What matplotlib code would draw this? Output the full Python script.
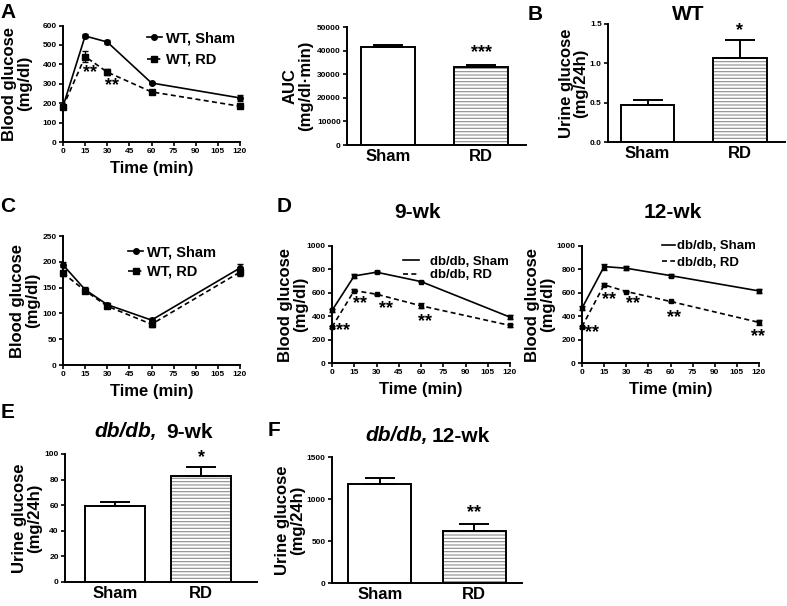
import matplotlib
matplotlib.use("Agg")
import matplotlib.pyplot as plt
import numpy as np
from matplotlib.lines import Line2D

plt.rcParams["font.family"] = ["Liberation Sans", "DejaVu Sans"]
plt.rcParams["font.weight"] = "bold"
plt.rcParams["axes.labelweight"] = "bold"
plt.rcParams["hatch.linewidth"] = 0.8

W, H = 787, 606

# Du lieu doc tu hinh
time = [0, 15, 30, 60, 120]
time_ticks = [0, 15, 30, 45, 60, 75, 90, 105, 120]

# A: GTT WT
a_sham = [183, 546, 515, 304, 227]
a_sham_err = [8, 12, 8, 6, 15]
a_rd = [181, 440, 360, 258, 184]
a_rd_err = [8, 30, 15, 6, 8]
a_stars_x = [18, 33]
a_stars_y = [358, 290]

# A: AUC
groups = ["Sham", "RD"]
auc = [41500, 33200]
auc_err = [1000, 800]

# B: urine glucose WT
b_urine = [0.47, 1.07]
b_urine_err = [0.06, 0.23]

# C: ITT WT
c_sham = [194, 146, 117, 87, 188]
c_sham_err = [5, 5, 4, 4, 8]
c_rd = [178, 144, 114, 79, 180]
c_rd_err = [5, 4, 4, 5, 8]

# D: GTT db/db 9-wk va 12-wk
d9_sham = [449, 744, 776, 696, 392]
d9_sham_err = [12, 15, 10, 6, 15]
d9_rd = [307, 619, 588, 489, 321]
d9_rd_err = [10, 10, 6, 20, 12]
d9_stars_x = [7.4, 18.7, 36.7, 62.6]
d9_stars_y = [280, 510, 465, 350]

d12_sham = [469, 824, 810, 747, 616]
d12_sham_err = [15, 25, 15, 12, 15]
d12_rd = [310, 668, 611, 526, 347]
d12_rd_err = [8, 12, 6, 6, 20]
d12_stars_x = [6.8, 18.3, 34.6, 62.5, 119]
d12_stars_y = [261, 545, 506, 392, 227]

# E, F: urine glucose db/db
e_urine = [59.5, 83]
e_urine_err = [3, 7]
f_urine = [1180, 615]
f_urine_err = [75, 85]


def box(l, t, r, b):
    return [l / W, 1 - b / H, (r - l) / W, (b - t) / H]


def ftext(x, y, s, **kw):
    fig.text(x / W, 1 - y / H, s, **kw)


def style(ax):
    ax.spines["top"].set_visible(False)
    ax.spines["right"].set_visible(False)
    ax.spines["left"].set_linewidth(1.4)
    ax.spines["bottom"].set_linewidth(1.4)
    ax.tick_params(direction="out", length=3, width=1.2, labelsize=6, pad=1.5)


def line_panel(ax, sham, sham_err, rd, rd_err, ymax, ystep, sham_m, rd_m, ms):
    style(ax)
    ax.errorbar(time, sham, yerr=sham_err, color="k", lw=1.2, marker=sham_m, ms=ms,
                capsize=2, elinewidth=1, capthick=1, clip_on=False, zorder=3)
    ax.errorbar(time, rd, yerr=rd_err, color="k", lw=1.2, ls=(0, (3, 2)), marker=rd_m, ms=ms,
                capsize=2, elinewidth=1, capthick=1, clip_on=False, zorder=3)
    ax.set_xlim(0, 120)
    ax.set_ylim(0, ymax)
    ax.set_xticks(time_ticks)
    ax.set_yticks(np.arange(0, ymax + 1, ystep))
    ax.set_xlabel("Time (min)", fontsize=12, labelpad=4)
    ax.set_ylabel("Blood glucose\n(mg/dl)", fontsize=12, linespacing=1.0)


def bar_panel(ax, vals, errs, ymax, ystep, xlim, width, ylabel, fmt=None):
    style(ax)
    x = np.arange(1, len(groups) + 1)
    hatches = ["", "-----"]
    for i in range(len(groups)):
        ax.bar(x[i], vals[i], width, color="white", edgecolor="0.55", lw=0, hatch=hatches[i])
        ax.bar(x[i], vals[i], width, fill=False, edgecolor="k", lw=1.4)
    ax.errorbar(x, vals, yerr=[np.zeros(len(errs)), errs], fmt="none", ecolor="k",
                elinewidth=1.4, capsize=11, capthick=1.4, zorder=3)
    ax.set_xlim(*xlim)
    ax.set_ylim(0, ymax)
    ax.set_xticks(x)
    ax.set_xticklabels(groups, fontsize=12)
    ax.tick_params(axis="x", length=0, pad=3)
    ax.set_yticks(np.arange(0, ymax + ystep / 10, ystep))
    if fmt:
        ax.set_yticklabels([fmt % v for v in np.arange(0, ymax + ystep / 10, ystep)])
    ax.set_ylabel(ylabel, fontsize=12, linespacing=1.0)


fig = plt.figure(figsize=(W / 100, H / 100), dpi=100)

# A - duong cong
ax = fig.add_axes(box(63, 25.5, 240, 142))
line_panel(ax, a_sham, a_sham_err, a_rd, a_rd_err, 600, 100, "o", "s", 4)
for sx, sy in zip(a_stars_x, a_stars_y):
    ax.text(sx, sy, "**", fontsize=13, ha="center", va="center")
h = [Line2D([], [], color="k", lw=1.2, marker="o", ms=4),
     Line2D([], [], color="k", lw=1.2, ls=(0, (3, 2)), marker="s", ms=4)]
ax.legend(h, ["WT, Sham", "WT, RD"], loc="upper left", bbox_to_anchor=(0.475, 0.95),
          frameon=False, fontsize=10.5, handlelength=1.0, handletextpad=0.3,
          borderpad=0, borderaxespad=0, labelspacing=0.5)
ax.yaxis.set_label_coords(-0.175, 0.5)

# A - AUC
ax = fig.add_axes(box(347, 27, 526, 145))
bar_panel(ax, auc, auc_err, 50000, 10000, (0.56, 2.48), 0.58, "AUC\n(mg/dl·min)")
ax.text(2, 39000, "***", fontsize=13, ha="center", va="center")
ax.yaxis.set_label_coords(-0.19, 0.5)

# B
ax = fig.add_axes(box(608, 24, 785, 142))
bar_panel(ax, b_urine, b_urine_err, 1.5, 0.5, (0.57, 2.49), 0.58, "Urine glucose\n(mg/24h)", "%.1f")
ax.text(2, 1.42, "*", fontsize=13, ha="center", va="center")
ax.yaxis.set_label_coords(-0.11, 0.5)

# C
ax = fig.add_axes(box(63, 236, 240, 365))
line_panel(ax, c_sham, c_sham_err, c_rd, c_rd_err, 250, 50, "o", "s", 4)
ax.legend(h, ["WT, Sham", "WT, RD"], loc="upper left", bbox_to_anchor=(0.37, 0.93),
          frameon=False, fontsize=10.5, handlelength=1.0, handletextpad=0.3,
          borderpad=0, borderaxespad=0, labelspacing=0.4)
ax.yaxis.set_label_coords(-0.13, 0.5)

# D - 9 tuan
hd = [Line2D([], [], color="k", lw=1.2), Line2D([], [], color="k", lw=1.2, ls=(0, (3, 2)))]
ax = fig.add_axes(box(332, 246, 510, 363))
line_panel(ax, d9_sham, d9_sham_err, d9_rd, d9_rd_err, 1000, 200, "s", "s", 2.5)
for sx, sy in zip(d9_stars_x, d9_stars_y):
    ax.text(sx, sy, "**", fontsize=13, ha="center", va="center")
ax.legend(hd, ["db/db, Sham", "db/db, RD"], loc="upper left", bbox_to_anchor=(0.40, 0.92),
          frameon=False, fontsize=9.5, handlelength=1.2, handletextpad=0.8,
          borderpad=0, borderaxespad=0, labelspacing=0.1)
ax.yaxis.set_label_coords(-0.135, 0.5)

# D - 12 tuan
ax = fig.add_axes(box(582, 246, 759, 363))
line_panel(ax, d12_sham, d12_sham_err, d12_rd, d12_rd_err, 1000, 200, "s", "s", 2.5)
for sx, sy in zip(d12_stars_x, d12_stars_y):
    ax.text(sx, sy, "**", fontsize=13, ha="center", va="center")
ax.legend(hd, ["db/db, Sham", "db/db, RD"], loc="upper left", bbox_to_anchor=(0.45, 1.05),
          frameon=False, fontsize=9.5, handlelength=1.0, handletextpad=0.2,
          borderpad=0, borderaxespad=0, labelspacing=0.3)
ax.yaxis.set_label_coords(-0.15, 0.5)

# E
ax = fig.add_axes(box(65, 454, 257, 582))
bar_panel(ax, e_urine, e_urine_err, 100, 20, (0.42, 2.65), 0.70, "Urine glucose\n(mg/24h)")
ax.text(2, 97, "*", fontsize=13, ha="center", va="center")
ax.yaxis.set_label_coords(-0.12, 0.5)

# F
ax = fig.add_axes(box(332, 457, 522, 583))
bar_panel(ax, f_urine, f_urine_err, 1500, 500, (0.49, 2.51), 0.67, "Urine glucose\n(mg/24h)")
ax.text(2, 833, "**", fontsize=13, ha="center", va="center")
ax.yaxis.set_label_coords(-0.14, 0.5)

# Nhan panel va tieu de
for lab, px, py in [("A", 8, 13), ("B", 535, 15), ("C", 8, 206),
                    ("D", 284, 206), ("E", 8, 412), ("F", 274, 431)]:
    ftext(px, py, lab, fontsize=15, ha="center", va="center")
ftext(688, 15, "WT", fontsize=15, ha="center", va="center")
ftext(418, 213, "9-wk", fontsize=15, ha="center", va="center")
ftext(673, 213, "12-wk", fontsize=15, ha="center", va="center")
ftext(157, 432, "db/db,", fontsize=15, ha="right", va="center", style="italic")
ftext(166, 432, "9-wk", fontsize=15, ha="left", va="center")
ftext(428, 436, "db/db,", fontsize=15, ha="right", va="center", style="italic")
ftext(432, 436, "12-wk", fontsize=15, ha="left", va="center")

fig.savefig("out.png", dpi=100)
